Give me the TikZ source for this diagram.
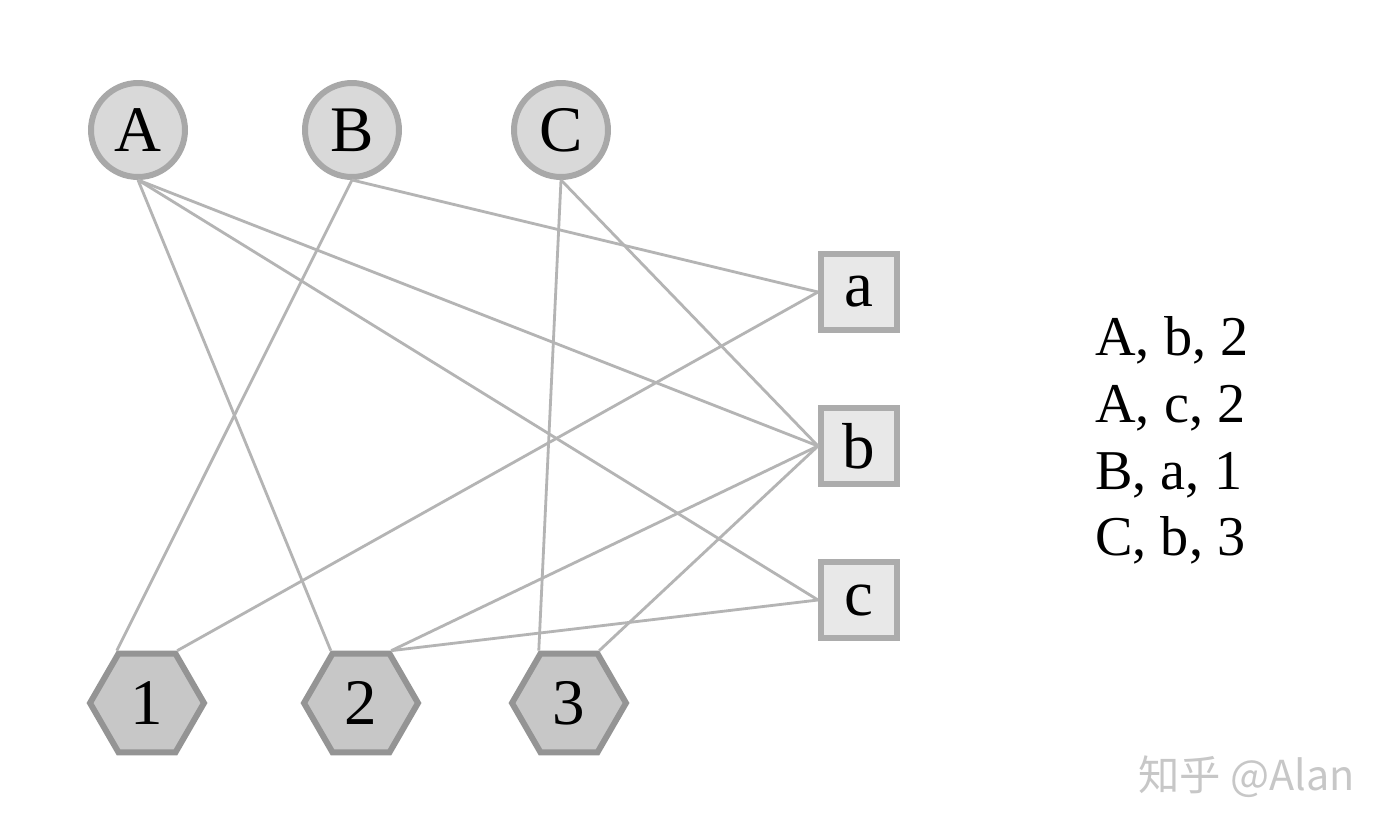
\documentclass[tikz,border=0pt]{standalone}
\usepackage{fontspec}
\setmainfont{Liberation Serif}
\newfontfamily\cjk{Noto Sans CJK SC}
\usetikzlibrary{shapes.geometric}
\definecolor{edgegray}{HTML}{B4B4B4}
\definecolor{rimgray}{HTML}{A8A8A8}

\begin{document}
\begin{tikzpicture}[x=0.02cm,y=-0.02cm,
  person/.style={circle, draw=rimgray, fill=black!15, line width=3.4pt, minimum size=1.88cm, inner sep=0pt, font=\fontsize{37}{44}\selectfont},
  item/.style={rectangle, draw=rimgray!95, fill=black!9, line width=3.4pt, minimum size=1.52cm, inner sep=0pt, font=\fontsize{37}{44}\selectfont},
  rating/.style={regular polygon, regular polygon sides=6, draw=black!42, fill=black!22, line width=3.4pt, minimum size=2.28cm, inner sep=0pt, font=\fontsize{37}{44}\selectfont},
  link/.style={draw=edgegray, line width=1.6pt},
  triple/.style={anchor=base west, inner sep=0pt, font=\fontsize{32}{38}\selectfont}]
\useasboundingbox[fill=white] (0,0) rectangle (1390,832);
% users
\node[person] (A) at (138,130) {A};
\node[person] (B) at (352,130) {B};
\node[person] (C) at (561,130) {C};
% items
\node[item] (a) at (859,292) {a};
\node[item] (b) at (859,446) {b};
\node[item] (c) at (859,600) {c};
% ratings
\node[rating] (r1) at (147,703) {1};
\node[rating] (r2) at (361,703) {2};
\node[rating] (r3) at (569,703) {3};
% edges
\draw[link] (A.south) -- (b.west);
\draw[link] (A.south) -- (c.west);
\draw[link] (A.south) -- (r2.120);
\draw[link] (B.south) -- (r1.120);
\draw[link] (B.south) -- (a.west);
\draw[link] (C.south) -- (r3.120);
\draw[link] (C.south) -- (b.west);
\draw[link] (r1.60) -- (a.west);
\draw[link] (r2.60) -- (b.west);
\draw[link] (r2.60) -- (c.west);
\draw[link] (r3.60) -- (b.west);
% triples
\node[triple] (t1) at (1095,355) {A, b, 2};
\node[triple] (t2) at (1095,422) {A, c, 2};
\node[triple] (t3) at (1095,489) {B, a, 1};
\node[triple] (t4) at (1095,555) {C, b, 3};
% watermark
\node[anchor=base west, inner sep=0pt, text=black!22, font=\cjk\fontsize{23.5}{28}\selectfont] (mark) at (1138,790) {知乎 @Alan};
\end{tikzpicture}
\end{document}
